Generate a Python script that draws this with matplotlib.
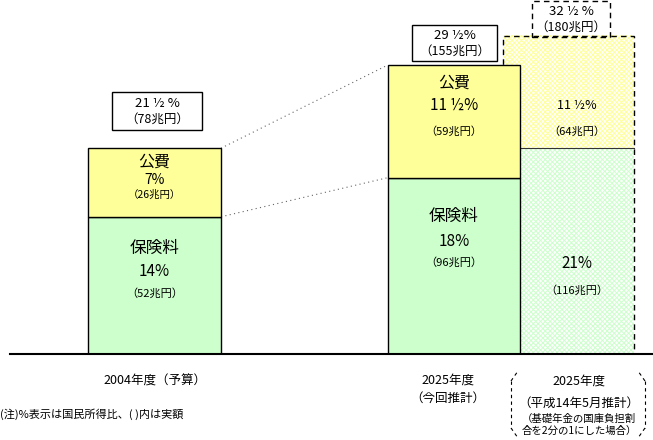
import matplotlib.pyplot as plt
from matplotlib.patches import Rectangle

plt.rcParams['font.family'] = ['Noto Sans CJK JP', 'DejaVu Sans']
plt.rcParams['hatch.linewidth'] = 0.7

# data (% of national income, trillion yen)
hoken_pct = [14, 18, 21]
kouhi_pct = [7, 11.5, 11.5]
hoken_cho = [52, 96, 116]
kouhi_cho = [26, 59, 64]
total_pct = ['21 ½ %', '29 ½%', '32 ½ %']
total_cho = [78, 155, 180]
hoken_lbl = ['14%', '18%', '21%']
kouhi_lbl = ['7%', '11 ½%', '11 ½%']

# layout in pixels
K = 9.8          # px per percent
BASE = 354       # baseline pixel row
def py(p):
    return (BASE - p) / K

xc = [154.5, 454, 568.5]
bw = [133, 132, 131]
yellow, green = '#FFFF99', '#CCFFCC'

fig = plt.figure(figsize=(6.53, 4.40), dpi=100)
ax = fig.add_axes([0, (440 - BASE) / 440, 1, BASE / 440])
ax.set_xlim(0, 653)
ax.set_ylim(0, BASE / K)
ax.axis('off')

# 2025 (H14 estimate) bar, hatched, behind
ax.bar(xc[2], hoken_pct[2], bw[2], color='white', edgecolor=green, lw=0, hatch='xxxxxxx', zorder=1)
ax.bar(xc[2], kouhi_pct[2], bw[2], bottom=hoken_pct[2], color='white', edgecolor=yellow, lw=0,
       hatch='xxxxxxx', zorder=1)
ax.bar(xc[2], hoken_pct[2] + kouhi_pct[2], bw[2], fill=False, edgecolor='black', lw=1,
       ls=(0, (4, 3)), zorder=2)
ax.plot([xc[1] + bw[1] / 2, xc[2] + bw[2] / 2], [hoken_pct[2]] * 2, color='#333333', lw=0.8, zorder=2)

# solid bars
for i in range(2):
    ax.bar(xc[i], hoken_pct[i], bw[i], color=green, edgecolor='black', lw=1, zorder=3)
    ax.bar(xc[i], kouhi_pct[i], bw[i], bottom=hoken_pct[i], color=yellow, edgecolor='black', lw=1, zorder=3)

# dotted connectors
x0, x1 = xc[0] + bw[0] / 2, xc[1] - bw[1] / 2
ax.plot([x0, x1], [hoken_pct[0], hoken_pct[1]], color='#666666', lw=0.8, ls=(0, (1, 3)), zorder=2)
ax.plot([x0, x1], [hoken_pct[0] + kouhi_pct[0], hoken_pct[1] + kouhi_pct[1]], color='#666666', lw=0.8,
        ls=(0, (1, 3)), zorder=2)

# baseline
ax.plot([10, 653], [0, 0], color='black', lw=1.5, zorder=4, clip_on=False)

# total boxes
boxes = [(112, 92, 90, 38, '-'), (412, 25, 85, 36, '-'), (532, 1, 78, 36, (0, (4, 3)))]
for i, (bx, by, w, h, ls) in enumerate(boxes):
    ax.add_patch(Rectangle((bx, py(by + h)), w, h / K, fill=False, ec='black', lw=1, ls=ls,
                           zorder=5, clip_on=False))
    ax.text(bx + w / 2, py(by + h * 0.3), total_pct[i], ha='center', va='center', fontsize=9.5,
            zorder=6)
    ax.text(bx + w / 2, py(by + h * 0.72), '（%d兆円）' % total_cho[i], ha='center', va='center',
            fontsize=9, zorder=6)

# bar texts
tx = [154.5, 454, 577]
kouhi_rows = [(162, 180, 195), (83, 105, 131), (None, 105, 131)]
hoken_rows = [(248, 271, 293), (216, 241, 262), (None, 263, 290)]
for i in range(3):
    k1, k2, k3 = kouhi_rows[i]
    h1, h2, h3 = hoken_rows[i]
    if k1:
        ax.text(tx[i], py(k1), '公費', ha='center', va='center', fontsize=11.5, zorder=6)
    fs = [10, 11, 9][i]
    ax.text(tx[i], py(k2), kouhi_lbl[i], ha='center', va='center', fontsize=fs, zorder=6)
    ax.text(tx[i], py(k3), '（%d兆円）' % kouhi_cho[i], ha='center', va='center',
            fontsize=7.5 if i == 0 else 8, zorder=6)
    if h1:
        ax.text(tx[i], py(h1), '保険料', ha='center', va='center', fontsize=12, zorder=6)
    ax.text(tx[i], py(h2), hoken_lbl[i], ha='center', va='center', fontsize=11, zorder=6)
    ax.text(tx[i], py(h3), '（%d兆円）' % hoken_cho[i], ha='center', va='center', fontsize=8, zorder=6)

# category labels
kw = dict(ha='center', va='center', fontsize=9, clip_on=False)
ax.text(155, py(381), '2004年度（予算）', **kw)
ax.text(448, py(380), '2025年度', **kw)
ax.text(448, py(398), '（今回推計）', **kw)
ax.text(579, py(381), '2025年度', **kw)
ax.text(579, py(403), '（平成14年5月推計）', **kw)
ax.text(579, py(419), '（基礎年金の国庫負担割', ha='center', va='center', fontsize=7.5, clip_on=False)
ax.text(579, py(431), '合を2分の1にした場合）', ha='center', va='center', fontsize=7.5, clip_on=False)
ax.text(0, py(414), '(注)%表示は国民所得比、( )内は実額', ha='left', va='center', fontsize=8, clip_on=False)

# dashed brackets around the H14 label
r = 9
dl = dict(color='black', lw=0.8, ls=(0, (3, 3)), clip_on=False)
for xe, sgn in [(511, 1), (645, -1)]:
    ax.plot([xe, xe], [py(372 + r), py(437 - r)], **dl)
    ax.plot([xe, xe + sgn * r * 0.7], [py(372 + r), py(372)], **dl)
    ax.plot([xe, xe + sgn * r * 0.7], [py(437 - r), py(437)], **dl)

fig.savefig('out.png', dpi=100)
